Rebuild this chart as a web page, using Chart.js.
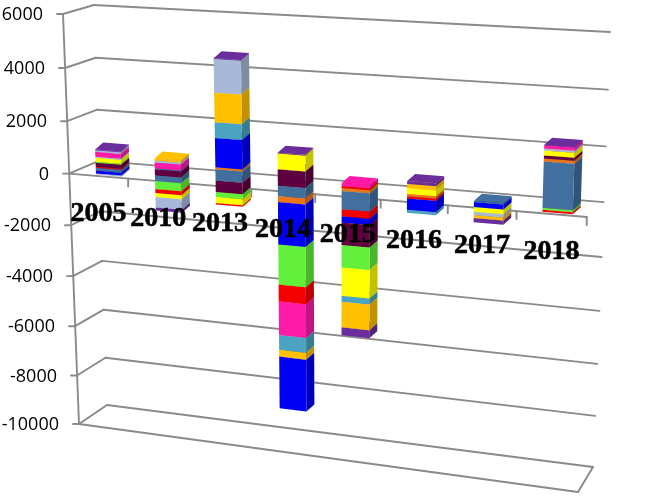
<!DOCTYPE html>
<html>
<head>
<meta charset="utf-8">
<title>Stacked 3D columns</title>
<script src="https://cdn.jsdelivr.net/npm/chart.js@4/dist/chart.umd.min.js"></script>
<style>
  html, body { margin: 0; padding: 0; background: #fff; }
  canvas { display: block; }
</style>
</head>
<body>
<canvas id="chart3d" width="646" height="497"></canvas>
<script>
const categories = ['2005', '2010', '2013', '2014', '2015', '2016', '2017', '2018'];

// positive stack, nearest to zero first
const upSteel1  = [110, 0, 425, 0, 0, 0, 40, 1680];
const upOrange  = [0, 0, 75, 0, 110, 90, 0, 110];
const upBlue    = [0, 0, 1110, 0, 0, 0, 0, 0];
const upTeal    = [0, 0, 590, 0, 0, 0, 0, 0];
const upRed     = [40, 0, 0, 0, 75, 0, 0, 0];
const upMaroon  = [150, 237, 0, 620, 0, 0, 0, 110];
const upSteel2  = [0, 37, 0, 0, 0, 0, 0, 0];
const upGreen   = [40, 0, 0, 0, 0, 0, 0, 0];
const upYellow  = [150, 0, 0, 590, 0, 220, 0, 180];
const upLav1    = [40, 0, 0, 0, 0, 0, 0, 70];
const upPink    = [190, 222, 0, 0, 110, 0, 0, 110];
const upLav2    = [60, 74, 0, 0, 0, 0, 0, 0];
const upGold    = [0, 75, 1110, 0, 0, 150, 0, 0];
const upLav3    = [0, 0, 1250, 0, 0, 0, 0, 0];
const upPurple  = [30, 0, 30, 30, 0, 110, 0, 30];

// negative stack, nearest to zero first
const downSteel  = [0, -215, 0, -392, -685, 0, 0, 0];
const downRed1   = [0, 0, 0, 0, -270, -75, 0, 0];
const downOrange = [0, 0, 0, -230, 0, 0, 0, 0];
const downBlue1  = [-115, 0, 0, -1615, -230, -420, -190, 0];
const downMaroon = [0, 0, -440, 0, -850, 0, 0, 0];
const downGreen  = [0, -310, -190, -1540, -850, 0, 0, -75];
const downRed2   = [0, -155, 0, -650, 0, 0, 0, -75];
const downYellow = [0, -155, -230, 0, -1080, 0, -175, 0];
const downRed3   = [0, 0, -55, 0, 0, 0, 0, 0];
const downLav    = [-40, -400, 0, 0, 0, 0, -115, 0];
const downPink   = [0, 0, 0, -1310, 0, 0, 0, 0];
const downTeal   = [0, 0, 0, -575, -230, -115, 0, 0];
const downGold   = [0, 0, 0, -270, -980, 0, -115, 0];
const downBlue2  = [0, 0, 0, -2040, 0, 0, 0, 0];
const downPurple = [0, -115, 0, 0, -310, 0, -155, 0];

const STEEL = '#41709f', ORANGE = '#e8761a', BLUE = '#0000f5', TEAL = '#4aa3c0', RED = '#f50000',
      MAROON = '#5f0040', GREEN = '#62f03a', YELLOW = '#ffff00', LAV = '#a7b8d8', PINK = '#ff1aa8',
      GOLD = '#ffc000', PURPLE = '#6a2d9b';

const seriesValues = [
  upSteel1, upOrange, upBlue, upTeal, upRed, upMaroon, upSteel2, upGreen, upYellow, upLav1, upPink, upLav2, upGold, upLav3, upPurple,
  downSteel, downRed1, downOrange, downBlue1, downMaroon, downGreen, downRed2, downYellow, downRed3, downLav, downPink, downTeal, downGold, downBlue2, downPurple
];
const seriesColors = [
  STEEL, ORANGE, BLUE, TEAL, RED, MAROON, STEEL, GREEN, YELLOW, LAV, PINK, LAV, GOLD, LAV, PURPLE,
  STEEL, RED, ORANGE, BLUE, MAROON, GREEN, RED, YELLOW, RED, LAV, PINK, TEAL, GOLD, BLUE, PURPLE
];

const GRID = '#8a8a8a';
const BAR_PLANE = 0.35;   // how far back the bar fronts sit on the floor
const DEPTH_X = 8, DEPTH_Y = -7;

const lerp = (a, b, t) => ({ x: a.x + (b.x - a.x) * t, y: a.y + (b.y - a.y) * t });

// the four edges of the 3d box, d is 0 at the axis minimum and 1 at the maximum
const frontLeft  = d => { const e = 1 - d; return { x: 63 + 16 * e, y: 14 + 410 * e + 25 * d * e }; };
const backLeft   = d => { const e = 1 - d, f = frontLeft(d); return { x: 94 + 13 * e, y: f.y - (9 + 10 * e) }; };
const backRight  = d => { const e = 1 - d; return { x: 610 - 17 * e, y: 32 + 435 * e + 30 * d * e }; };
const frontRight = d => { const e = 1 - d; return { x: 592 - 14 * e, y: 52 + 440 * e }; };

// categories get wider towards the right
const warp = q => q - 0.098 * q * (1 - q);

function project(q, p, d) {
  const left = lerp(frontLeft(d), backLeft(d), p);
  const right = lerp(frontRight(d), backRight(d), p);
  return lerp(left, right, warp(q));
}

function shade(hex, k) {
  const n = parseInt(hex.slice(1), 16);
  return `rgb(${Math.round((n >> 16) * k)},${Math.round(((n >> 8) & 255) * k)},${Math.round((n & 255) * k)})`;
}

function poly(ctx, pts, color) {
  ctx.fillStyle = color;
  ctx.beginPath();
  pts.forEach((pt, i) => (i ? ctx.lineTo(pt.x, pt.y) : ctx.moveTo(pt.x, pt.y)));
  ctx.closePath();
  ctx.fill();
}

function line(ctx, a, b) {
  ctx.beginPath();
  ctx.moveTo(a.x, a.y);
  ctx.lineTo(b.x, b.y);
  ctx.stroke();
}

const box3d = {
  id: 'box3d',
  beforeDatasetsDraw(chart) {
    const { ctx, chartArea: area, scales: { x, y } } = chart;
    const dec = py => (area.bottom - py) / (area.bottom - area.top);
    const zero = dec(y.getPixelForValue(0));

    ctx.save();
    ctx.strokeStyle = GRID;
    ctx.lineWidth = 1.9;
    ctx.lineCap = 'round';

    // walls and gridlines
    y.ticks.forEach(t => {
      const d = dec(y.getPixelForValue(t.value));
      const f = frontLeft(d), b = backLeft(d);
      line(ctx, { x: f.x - 6, y: f.y }, f);
      line(ctx, f, b);
      line(ctx, b, backRight(d));
    });
    line(ctx, frontLeft(1), frontLeft(0));
    line(ctx, frontLeft(0), frontRight(0));
    line(ctx, frontRight(0), backRight(0));

    // zero plane front edge with its tick marks
    line(ctx, frontLeft(zero), frontRight(zero));
    categories.forEach((c, i) => {
      const pt = project((i + 1) / categories.length, 0, zero);
      line(ctx, pt, { x: pt.x, y: pt.y + 8 });
    });

    // bars, lowest segment first so upper ones cover its top
    categories.forEach((c, i) => {
      const parts = [];
      chart.data.datasets.forEach((ds, k) => {
        const el = chart.getDatasetMeta(k).data[i];
        if (el.y !== el.base) parts.push(el);
      });
      parts.sort((a, b) => Math.max(b.y, b.base) - Math.max(a.y, a.base));
      parts.forEach(el => {
        const q = (el.x - area.left) / (area.right - area.left);
        const hw = el.width / (area.right - area.left) / 2;
        const hi = dec(Math.min(el.y, el.base)), lo = dec(Math.max(el.y, el.base));
        const tl = project(q - hw, BAR_PLANE, hi), tr = project(q + hw, BAR_PLANE, hi);
        const bl = project(q - hw, BAR_PLANE, lo), br = project(q + hw, BAR_PLANE, lo);
        const back = pt => ({ x: pt.x + DEPTH_X, y: pt.y + DEPTH_Y });
        const color = el.options.backgroundColor;
        poly(ctx, [tr, back(tr), back(br), br], shade(color, 0.76));
        poly(ctx, [tl, tr, back(tr), back(tl)], color);
        poly(ctx, [tl, tr, br, bl], color);
      });
    });

    // value labels follow the slanted axis
    ctx.fillStyle = '#000';
    ctx.font = '18px "Open Sans"';
    ctx.textAlign = 'right';
    ctx.textBaseline = 'middle';
    y.ticks.forEach(t => {
      const f = frontLeft(dec(y.getPixelForValue(t.value)));
      ctx.fillText(t.label, f.x - 20, f.y + 1);
    });

    // year labels sit below the front edge
    ctx.font = 'bold 28px "Liberation Serif"';
    ctx.textAlign = 'center';
    ctx.strokeStyle = '#000';
    ctx.lineWidth = 0.6;
    categories.forEach((c, i) => {
      const px = x.getPixelForValue(i);
      const q = (px - area.left) / (area.right - area.left);
      const pt = project(q, 0, zero);
      ctx.fillText(c, pt.x, pt.y + 38);
      ctx.strokeText(c, pt.x, pt.y + 38);
    });
    ctx.restore();
    return false;
  }
};

new Chart(document.getElementById('chart3d'), {
  type: 'bar',
  data: {
    labels: categories,
    datasets: seriesValues.map((data, i) => ({
      data,
      backgroundColor: seriesColors[i],
      barPercentage: 0.436,
      categoryPercentage: 1
    }))
  },
  options: {
    responsive: false,
    animation: false,
    layout: { padding: { top: 14, bottom: 73 } },
    plugins: { legend: { display: false }, tooltip: { enabled: false } },
    scales: {
      x: { stacked: true, display: false },
      y: { stacked: true, display: false, min: -10000, max: 6000, ticks: { stepSize: 2000, callback: v => String(v) } }
    }
  },
  plugins: [box3d]
});
</script>
</body>
</html>
